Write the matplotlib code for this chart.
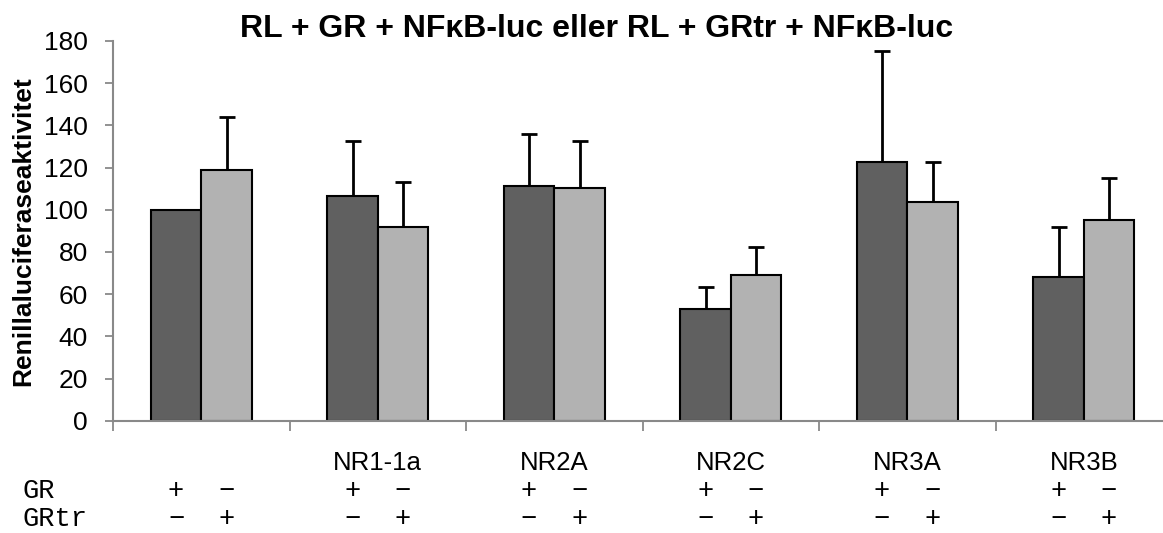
import numpy as np
import matplotlib.pyplot as plt
import matplotlib.transforms as mtransforms

plt.rcParams['font.family'] = ['Liberation Sans', 'DejaVu Sans']

categories = ['', 'NR1-1a', 'NR2A', 'NR2C', 'NR3A', 'NR3B']
gr_vals = [100, 106.5, 111.1, 52.8, 122.5, 68.3]
gr_err = [0, 26.2, 24.6, 10.4, 52.7, 23.6]
grtr_vals = [118.8, 91.9, 110.4, 69.1, 103.5, 95.3]
grtr_err = [25.0, 21.2, 22.0, 13.1, 19.2, 19.9]
gr_signs = ['+', '\u2212']
grtr_signs = ['\u2212', '+']

fig = plt.figure(figsize=(11.63, 5.33), dpi=100)
ax = fig.add_axes([0.0972, 0.2107, 0.9028, 0.7124])

x = np.arange(len(categories))
w = 0.286
spine_col = '#898989'
mono = 'Liberation Mono'

ax.bar(x - w / 2, gr_vals, w, color='#606060', edgecolor='black', linewidth=1.5, zorder=2)
ax.bar(x + w / 2, grtr_vals, w, color='#b2b2b2', edgecolor='black', linewidth=1.5, zorder=2)
# error bars, upper only (first GR is the control with no error)
ax.errorbar(x[1:] - w / 2, gr_vals[1:], yerr=[np.zeros(5), gr_err[1:]], fmt='none',
            ecolor='black', elinewidth=2, capsize=6, capthick=2, zorder=1)
ax.errorbar(x + w / 2, grtr_vals, yerr=[np.zeros(6), grtr_err], fmt='none',
            ecolor='black', elinewidth=2, capsize=6, capthick=2, zorder=1)

ax.set_xlim(-0.5, 5.449)
ax.set_ylim(0, 180)
ax.set_yticks(np.arange(0, 181, 20))
ax.set_xticks(np.arange(-0.5, 5.5, 1.0))
ax.set_xticklabels([])
ax.tick_params(axis='y', direction='out', length=6, width=1.3, color=spine_col, labelsize=19, pad=12)
ax.tick_params(axis='x', direction='out', length=7, width=1.3, color=spine_col)

for s in ['top', 'right']:
    ax.spines[s].set_visible(False)
for s in ['left', 'bottom']:
    ax.spines[s].set_color(spine_col)
    ax.spines[s].set_linewidth(1.5)

ax.set_ylabel('Renillaluciferaseaktivitet', fontsize=19, fontweight='bold', labelpad=6)
fig.text(597 / 1163, 1 - 29 / 533, 'RL + GR + NF\u03baB-luc eller RL + GRtr + NF\u03baB-luc',
         ha='center', va='center', fontsize=23, fontweight='bold')

trans = mtransforms.blended_transform_factory(ax.transData, fig.transFigure)
y_cat = 1 - 463 / 533
y_gr = 1 - 498 / 533
y_grtr = 1 - 526 / 533
fs_mono = 19.5
for i, c in enumerate(categories):
    ax.text(x[i], y_cat, c, transform=trans, ha='center', va='center', fontsize=18.5)
    ax.text(x[i] - w / 2, y_gr, gr_signs[0], transform=trans, ha='center', va='baseline',
            fontsize=fs_mono, family=mono)
    ax.text(x[i] + w / 2, y_gr, gr_signs[1], transform=trans, ha='center', va='baseline',
            fontsize=fs_mono, family=mono)
    ax.text(x[i] - w / 2, y_grtr, grtr_signs[0], transform=trans, ha='center', va='baseline',
            fontsize=fs_mono, family=mono)
    ax.text(x[i] + w / 2, y_grtr, grtr_signs[1], transform=trans, ha='center', va='baseline',
            fontsize=fs_mono, family=mono)

fig.text(23 / 1163, y_gr, 'GR', ha='left', va='baseline', fontsize=fs_mono, family=mono)
fig.text(23 / 1163, y_grtr, 'GRtr', ha='left', va='baseline', fontsize=fs_mono, family=mono)

fig.savefig('out.png', dpi=100)
